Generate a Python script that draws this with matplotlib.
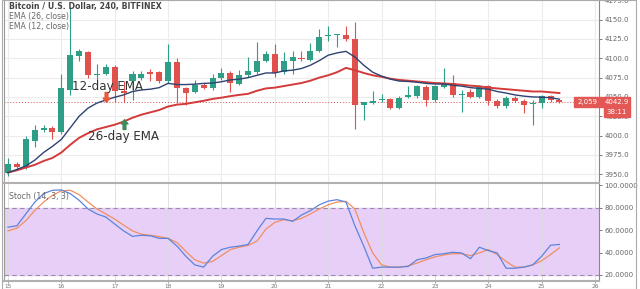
import numpy as np
import matplotlib
matplotlib.use("Agg")
import matplotlib.pyplot as plt
from matplotlib.patches import Rectangle

# 4h candles, BTC/USD (Bitfinex), one entry per bar
opens = [3951, 3963, 3959, 3993, 4007, 4010, 4004, 4059, 4103, 4108,
         4078, 4080, 4089, 4058, 4070, 4075, 4082, 4082, 4070, 4095,
         4061, 4057, 4065, 4061, 4074, 4081, 4067, 4078, 4082, 4097,
         4105, 4082, 4096, 4100.5, 4098, 4110, 4129, 4130, 4130.5, 4125,
         4040, 4042, 4046, 4047, 4036, 4049.6, 4051, 4063, 4046, 4063,
         4068, 4052, 4057, 4050, 4064, 4045, 4038, 4049, 4045, 4041,
         4042, 4051, 4046]
highs = [3971, 3966, 3999, 4013, 4014, 4012, 4080, 4166, 4112, 4110,
         4093, 4093, 4091, 4070, 4084, 4084, 4086, 4084, 4119, 4100,
         4063, 4072, 4068, 4080, 4087, 4083, 4085, 4102, 4121, 4110,
         4119, 4108, 4110, 4110, 4120, 4138, 4142, 4132, 4142, 4146.5,
         4044, 4058, 4054, 4049, 4051, 4064, 4066, 4066, 4066, 4088,
         4078, 4059, 4060, 4066, 4066, 4047, 4051, 4051, 4047, 4046,
         4052, 4053, 4047]
lows = [3948, 3955, 3956, 3985, 4004, 3995, 4002, 4052, 4097, 4074,
        4072, 4078, 4044, 4043, 4046, 4072, 4070, 4068, 4068, 4042,
        4040, 4055, 4060, 4059, 4072, 4057, 4065, 4076, 4080, 4095,
        4076, 4080, 4080, 4097, 4096, 4108, 4122, 4114, 4123, 4008,
        4020, 4041, 4044, 4034, 4034, 4048, 4049, 4038, 4044, 4061,
        4050, 4031, 4048, 4048, 4040, 4036, 4036, 4043, 4029, 4013,
        4036, 4044, 4042]
closes = [3963, 3959, 3995, 4007, 4010, 4004, 4061, 4104, 4109, 4078,
          4080, 4089, 4058, 4055, 4080, 4080, 4080, 4070, 4095, 4061,
          4055, 4065, 4062, 4074, 4081, 4068, 4078, 4083, 4097, 4106,
          4081, 4096, 4102, 4099, 4110, 4128, 4130.5, 4130.5, 4125, 4040,
          4043, 4045, 4047, 4036, 4049, 4052.5, 4064, 4046, 4064, 4068,
          4052, 4054, 4050, 4064, 4045, 4038, 4049, 4045, 4040, 4042.5,
          4051, 4046, 4042.9]

ema12 = [3952, 3956, 3960.6, 3968, 3978, 3986, 3995, 4010, 4025, 4035.5,
         4042, 4046, 4049.6, 4052.6, 4057, 4059, 4060, 4062, 4067.6, 4066,
         4066, 4066.5, 4067.5, 4068, 4069.6, 4072, 4073, 4075, 4078, 4081,
         4081, 4083.7, 4084.6, 4086.8, 4091, 4097, 4104, 4107, 4109, 4101.7,
         4091, 4082, 4077, 4073, 4070.5, 4070, 4069, 4067.5, 4066.7, 4066.7,
         4065, 4064, 4062, 4061, 4060, 4057, 4055, 4052.6, 4051, 4050,
         4049.6, 4049, 4047]
ema26 = [3952, 3955, 3958.5, 3962, 3967, 3971, 3978, 3988, 3997, 4003,
         4008, 4011, 4014, 4018, 4023, 4027, 4030, 4033, 4037.6, 4040,
         4041, 4043, 4045, 4047.4, 4049, 4051, 4052.6, 4054, 4058, 4061,
         4062, 4064, 4066, 4068, 4071, 4075, 4078, 4082, 4087.6, 4084.6,
         4081, 4078, 4076, 4073.6, 4072, 4071, 4070, 4069, 4068, 4067.5,
         4066.7, 4065.8, 4064.5, 4063.7, 4062, 4061, 4060, 4059, 4058, 4057,
         4057, 4056, 4055]

stoch_k = [62.7, 64, 74.5, 85, 92.7, 95.7, 96, 92.7, 86.7, 79,
           74.5, 71.8, 65.5, 59.4, 54.5, 55.5, 55, 52.7, 52.7, 45.8,
           36.7, 29, 27, 36.7, 42.7, 44.8, 45.8, 47.3, 59.4, 70.6,
           70, 70, 67.9, 73.6, 77.5, 82.7, 86, 87.3, 85.2, 64,
           45.8, 26, 27, 27, 27, 27.6, 33.6, 35.2, 38.2, 39,
           40.3, 39.7, 34.5, 44.8, 41.8, 39.7, 26, 26, 27, 29,
           36.7, 46.6, 47.3]
stoch_d = [59.4, 61.8, 68.5, 77.5, 85.2, 91.2, 95.2, 95.7, 91.8, 85.2,
           79, 74.5, 70, 64.5, 59.4, 56.4, 55.5, 54.3, 52.7, 49,
           41.2, 33.6, 30.6, 32.1, 37.3, 42.7, 44.8, 46.4, 50.3, 60.9,
           67, 69.4, 68.5, 70.6, 74.5, 79, 82.7, 85.2, 85.8, 79,
           57.9, 39.7, 29, 27, 26.8, 28.2, 30.6, 33.6, 36.1, 37.9,
           39, 39, 37.3, 39.7, 42.7, 38.2, 32.1, 27, 27, 29,
           32.7, 38.2, 44.3]

day_labels = ['15', '16', '17', '18', '19', '20', '21', '22', '23', '24', '25', '26']
price_ticks = [3950, 3975, 4000, 4025, 4050, 4075, 4100, 4125, 4150, 4175]
stoch_ticks = [20, 40, 60, 80, 100]
last_price = 4042.9

GREEN = '#2f9e86'
RED = '#e0504c'
GRID = '#ececec'

W, H = 640, 289
fig = plt.figure(figsize=(W / 100, H / 100), dpi=100)
fig.patch.set_facecolor('white')

def px(x0, y0, x1, y1):
    # pixel box -> figure rect
    return [x0 / W, 1 - y1 / H, (x1 - x0) / W, (y1 - y0) / H]

ax = fig.add_axes(px(4, 0, 599, 182))
ax2 = fig.add_axes(px(4, 183, 599, 281), sharex=ax)

n = len(closes)
xs = np.arange(n)
day_pos = np.arange(len(day_labels)) * 6

# ---- price pane ----
for y in price_ticks:
    ax.axhline(y, color=GRID, lw=0.8, zorder=0)
for d in day_pos:
    ax.axvline(d, color=GRID, lw=0.8, zorder=0)

o = np.array(opens); c = np.array(closes)
h = np.array(highs); l = np.array(lows)
up = c >= o
cols = np.where(up, GREEN, RED)
ax.vlines(xs, l, h, colors=cols, lw=0.8, zorder=2)
body_lo = np.minimum(o, c)
body_h = np.maximum(np.abs(c - o), 1.2)
ax.bar(xs, body_h, bottom=body_lo, width=0.68, color=cols, zorder=3)

ax.plot(xs, ema26, color='#d33b3b', lw=1.4, zorder=4)
ax.plot(xs, ema12, color='#2f4372', lw=1.0, zorder=4)
ax.axhline(last_price, color=RED, lw=0.7, ls=(0, (1, 2)), zorder=1)

# annotation arrows
down_arrow = [(-0.5, 0.2), (-0.2, 0.2), (-0.2, 1), (0.2, 1), (0.2, 0.2), (0.5, 0.2), (0, -0.4), (-0.5, 0.2)]
up_arrow = [(x, -y) for x, y in down_arrow]
ax.plot([11], [4047.5], marker=down_arrow, ms=10, color='#e8593a', zorder=6)
ax.plot([13], [4017], marker=up_arrow, ms=10, color='#3f8a5c', zorder=6)
ax.text(7.2, 4064, '12-day EMA', fontsize=8.6, color='#333333', va='center', zorder=7)
ax.text(9.0, 3999, '26-day EMA', fontsize=8.6, color='#333333', va='center', zorder=7)

ax.set_xlim(-0.45, 66.45)
ax.set_ylim(3939.8, 4175.5)
ax.yaxis.tick_right()
ax.set_yticks(price_ticks)
ax.set_yticklabels(['%.1f' % t for t in price_ticks])
ax.tick_params(axis='y', labelsize=5, colors='#666666', length=2, pad=2, width=0.6)
ax.tick_params(axis='x', bottom=False, labelbottom=False)
for s in ['top', 'bottom']:
    ax.spines[s].set_visible(False)
ax.spines['left'].set_color('#999999')
ax.spines['right'].set_color('#888888')
ax.spines['right'].set_linewidth(0.8)

# legend texts
fig.text(9 / W, 1 - 6 / H, 'Bitcoin / U.S. Dollar, 240, BITFINEX', fontsize=5.6,
         fontweight='bold', color='#444444', va='center')
fig.text(9 / W, 1 - 16 / H, 'EMA (26, close)', fontsize=5.6, color='#666666', va='center')
fig.text(9 / W, 1 - 26 / H, 'EMA (12, close)', fontsize=5.6, color='#666666', va='center')

# ---- stoch pane ----
ax2.axhspan(20, 80, color='#e7cff8', zorder=0)
for d in day_pos:
    ax2.axvline(d, color='#dcdcdc', lw=0.6, zorder=1)
ax2.axhline(80, color='#9a8ca8', lw=0.8, ls=(0, (4, 3)), zorder=1)
ax2.axhline(20, color='#9a8ca8', lw=0.8, ls=(0, (4, 3)), zorder=1)
ax2.plot(xs, stoch_d, color='#f09060', lw=0.9, zorder=3)
ax2.plot(xs, stoch_k, color='#5c84dc', lw=0.9, zorder=4)
ax2.set_ylim(14.6, 102.2)
ax2.yaxis.tick_right()
ax2.set_yticks(stoch_ticks)
ax2.set_yticklabels(['%.4f' % t for t in stoch_ticks])
ax2.tick_params(axis='y', labelsize=5, colors='#666666', length=2, pad=2, width=0.6)
ax2.set_xticks(day_pos)
ax2.set_xticklabels(day_labels)
ax2.tick_params(axis='x', labelsize=4.2, colors='#777777', length=1.5, pad=1, width=0.5)
for s in ['top', 'bottom']:
    ax2.spines[s].set_color('#b0b0b0')
    ax2.spines[s].set_linewidth(1.5)
ax2.spines['left'].set_color('#999999')
ax2.spines['right'].set_color('#888888')
ax2.spines['right'].set_linewidth(0.8)
fig.text(9 / W, 1 - 196 / H, 'Stoch (14, 3, 3)', fontsize=5.6, color='#666666', va='center')

# last price badges on the price scale
fig.patches.append(Rectangle((574 / W, 1 - 107 / H), 56 / W, 10 / H, transform=fig.transFigure,
                             color='#e35855', zorder=10))
fig.patches.append(Rectangle((604 / W, 1 - 117 / H), 26 / W, 10 / H, transform=fig.transFigure,
                             color='#e35855', zorder=10))
fig.text(588 / W, 1 - 102 / H, '2,059', fontsize=5, color='white', ha='center', va='center', zorder=11)
fig.text(617 / W, 1 - 102 / H, '4042.9', fontsize=5, color='white', ha='center', va='center', zorder=11)
fig.text(617 / W, 1 - 112 / H, '38:11', fontsize=5, color='white', ha='center', va='center', zorder=11)

# outer frame
fig.patches.append(Rectangle((2 / W, 0), 634 / W, 1, transform=fig.transFigure,
                             fill=False, ec='#aaaaaa', lw=0.8, zorder=0))

fig.savefig('out.png', dpi=100)
